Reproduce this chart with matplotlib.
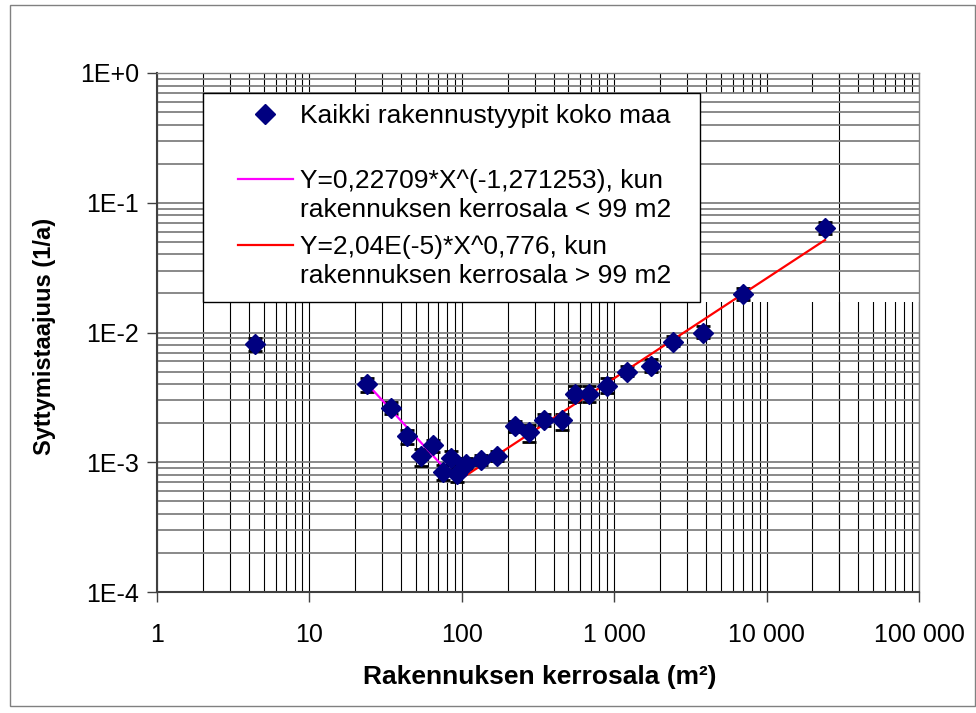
import matplotlib
matplotlib.use("Agg")
import numpy as np
import matplotlib.pyplot as plt
from matplotlib.lines import Line2D
from matplotlib.patches import Rectangle
from matplotlib.ticker import FixedLocator, LogLocator, NullFormatter

plt.rcParams['font.family'] = ['Liberation Sans', 'DejaVu Sans']

# havainnot: kerrosala (m2), syttymistaajuus (1/a) ja virherajat
area = [4.4, 23.8, 34.2, 43.9, 54.0, 65.0, 75.6, 84.6, 92.6, 107, 133, 169,
        223, 277, 346, 452, 553, 687, 901, 1219, 1743, 2443, 3809, 7031, 24160]
freq = [8.15e-3, 4.01e-3, 2.63e-3, 1.60e-3, 1.12e-3, 1.36e-3, 8.46e-4, 1.08e-3,
        8.16e-4, 9.78e-4, 1.04e-3, 1.12e-3, 1.91e-3, 1.70e-3, 2.12e-3, 2.13e-3,
        3.36e-3, 3.36e-3, 3.87e-3, 4.99e-3, 5.55e-3, 8.45e-3, 1.00e-2, 1.98e-2,
        6.35e-2]
freq_lo = [7.26e-3, 3.50e-3, 2.35e-3, 1.38e-3, 9.4e-4, 1.20e-3, 7.3e-4, 9.6e-4,
           7.0e-4, 8.9e-4, 9.5e-4, 1.02e-3, 1.72e-3, 1.44e-3, 1.91e-3, 1.78e-3,
           2.93e-3, 2.93e-3, 3.40e-3, 4.62e-3, 4.96e-3, 7.87e-3, 9.0e-3, 1.78e-2,
           5.74e-2]
freq_hi = [9.15e-3, 4.43e-3, 2.92e-3, 1.77e-3, 1.26e-3, 1.49e-3, 9.5e-4, 1.22e-3,
           9.1e-4, 1.07e-3, 1.14e-3, 1.22e-3, 2.09e-3, 1.93e-3, 2.36e-3, 2.37e-3,
           3.86e-3, 3.86e-3, 4.43e-3, 5.52e-3, 6.20e-3, 9.40e-3, 1.12e-2, 2.21e-2,
           7.15e-2]

# sovitetut suorat (paatepisteet kuvasta)
fit_small_x = [23.8, 92.6]
fit_small_y = [4.05e-3, 7.1e-4]
fit_large_x = [92.6, 24160]
fit_large_y = [7.1e-4, 5.16e-2]

x_ticks = [1, 10, 100, 1000, 10000, 100000]
x_ticklabels = ['1', '10', '100', '1 000', '10 000', '100 000']
y_ticks = [1e-4, 1e-3, 1e-2, 1e-1, 1]
y_ticklabels = ['1E-4', '1E-3', '1E-2', '1E-1', '1E+0']

legend_first = ['Kaikki rakennustyypit koko maa',
                'Y=0,22709*X^(-1,271253), kun',
                'Y=2,04E(-5)*X^0,776, kun']
legend_second = ['rakennuksen kerrosala < 99 m2',
                 'rakennuksen kerrosala > 99 m2']

W, H = 976, 713
FS_TICK = 18
FS_LEG = 19
NAVY = '#000080'

fig = plt.figure(figsize=(W / 100, H / 100), dpi=100)
ax = fig.add_axes([157 / W, 1 - 592 / H, (919 - 157) / W, (592 - 73) / H])
ax.set_xscale('log')
ax.set_yscale('log')
ax.set_xlim(1, 1e5)
ax.set_ylim(1e-4, 1)

ax.xaxis.set_major_locator(FixedLocator(x_ticks))
ax.yaxis.set_major_locator(FixedLocator(y_ticks))
ax.xaxis.set_minor_locator(LogLocator(base=10, subs=range(2, 10), numticks=20))
ax.yaxis.set_minor_locator(LogLocator(base=10, subs=range(2, 10), numticks=20))
ax.xaxis.set_minor_formatter(NullFormatter())
ax.yaxis.set_minor_formatter(NullFormatter())
ax.set_xticklabels(x_ticklabels)
ax.set_yticklabels(y_ticklabels)

# pystyviivat itse, jotta selitteen oikea puoli jaa ilman niita (kuten Excelissa)
grid_x = [v for v in list(ax.xaxis.get_majorticklocs()) + list(ax.xaxis.get_minorticklocs())
          if 1 <= v <= 1e5]
ax.vlines(grid_x, 0, 1, transform=ax.get_xaxis_transform(), colors='black',
          lw=0.8, zorder=0.2)
ax.add_patch(Rectangle((700 / W, 1 - 302 / H), (919 - 700) / W, (302 - 93) / H,
                       transform=fig.transFigure, facecolor='white',
                       edgecolor='none', zorder=0.3))
ax.axvline(3e4, color='black', lw=0.8, zorder=0.4)
ax.grid(which='both', axis='y', color='#808080', lw=1.3)
ax.set_axisbelow(True)

ax.tick_params(which='minor', length=0)
ax.tick_params(which='major', length=7, width=1, color='#404040',
               labelsize=FS_TICK, direction='out')
ax.tick_params(axis='x', pad=15)
ax.tick_params(axis='y', pad=6)
for side in ['left', 'bottom']:
    ax.spines[side].set_color('#404040')
    ax.spines[side].set_linewidth(1.5)
for side in ['top', 'right']:
    ax.spines[side].set_color('#808080')
    ax.spines[side].set_linewidth(1.0)

# virhepalkit, sovitteet ja pisteet
freq_arr = np.array(freq)
yerr = [freq_arr - np.array(freq_lo), np.array(freq_hi) - freq_arr]
ax.errorbar(area, freq, yerr=yerr, fmt='none', ecolor='black',
            elinewidth=1.5, capsize=5, capthick=2, zorder=3)
ax.plot(fit_small_x, fit_small_y, color='#FF00FF', lw=1.6, zorder=3.5)
ax.plot(fit_large_x, fit_large_y, color='#FF0000', lw=1.6, zorder=3.5)
ax.plot(area, freq, 'D', color=NAVY, ms=10, ls='none', zorder=4)

# selite
ax.add_patch(Rectangle((203 / W, 1 - 302 / H), 497 / W, 209 / H,
                       transform=fig.transFigure, facecolor='white',
                       edgecolor='black', lw=1, zorder=4.9, clip_on=False))

handles = [Line2D([], [], marker='D', ls='none', color=NAVY, ms=10),
           Line2D([], [], color='#FF00FF', lw=1.6),
           Line2D([], [], color='#FF0000', lw=1.6)]
leg = ax.legend(handles, legend_first, loc='upper left',
                bbox_to_anchor=(238 / W, 1 - 104 / H),
                bbox_transform=fig.transFigure, frameon=False,
                borderpad=0, borderaxespad=0, handlelength=2.08,
                handletextpad=0.27, labelspacing=1.57, fontsize=FS_LEG)
leg.set_zorder(6)
for txt, line2 in zip(leg.get_texts()[1:], legend_second):
    ax.annotate(line2, xy=(0, 0), xycoords=txt, xytext=(0, -29 * 0.72),
                textcoords='offset points', ha='left', va='bottom',
                fontsize=FS_LEG, zorder=7, annotation_clip=False)

# akselien otsikot
fig.text(540 / W, 1 - 677 / H, 'Rakennuksen kerrosala (m²)', ha='center',
         va='center', fontsize=19, fontweight='bold')
fig.text(45 / W, 1 - 336 / H, 'Syttymistaajuus (1/a)', ha='center',
         va='center', rotation=90, fontsize=17, fontweight='bold')

# kaavion reunus
fig.add_artist(Rectangle((10 / W, 1 - 706 / H), 965 / W, 701 / H,
                         transform=fig.transFigure, fill=False,
                         edgecolor='#808080', lw=1))

fig.savefig('out.png', dpi=100)
